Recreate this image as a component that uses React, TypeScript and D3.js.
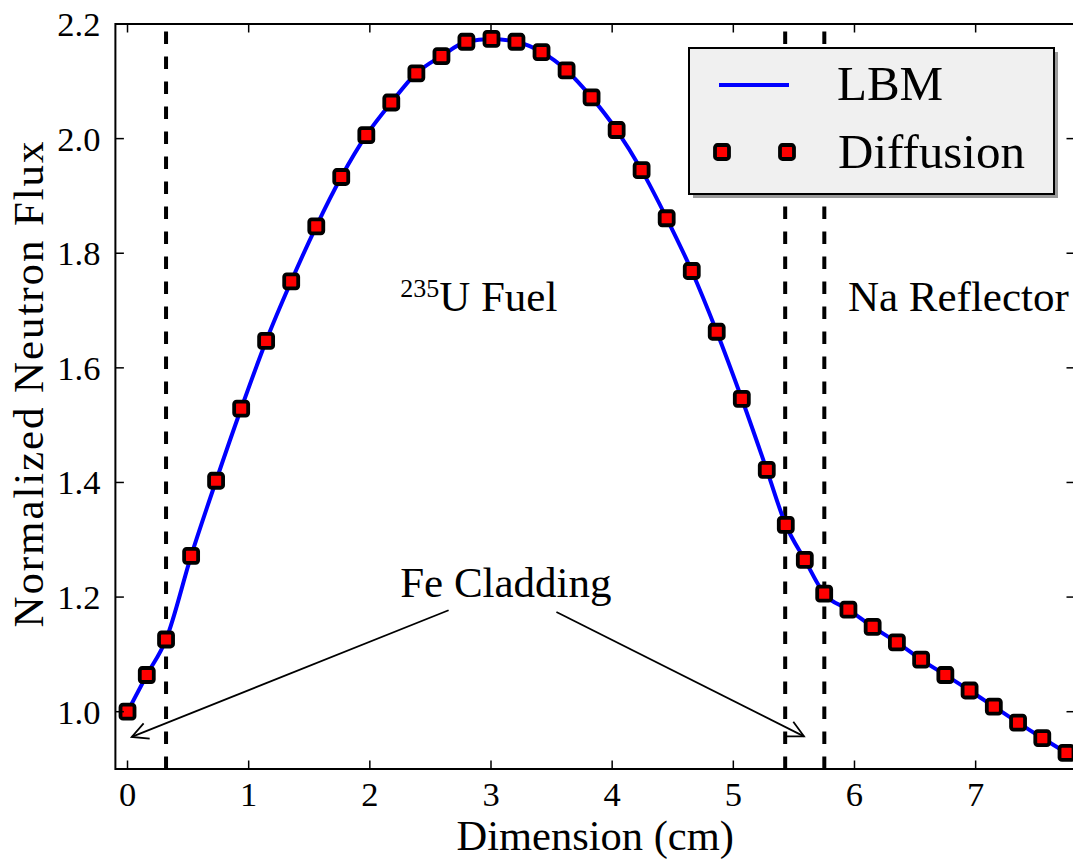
import React from 'react';
import * as d3 from 'd3';

// Dimension (cm) of the sampled points
const position = [
  0, 0.159, 0.318,
  0.525, 0.731, 0.938, 1.144, 1.351, 1.558, 1.764, 1.971, 2.177, 2.384, 2.591, 2.797,
  3.004, 3.210, 3.417, 3.624, 3.830, 4.037, 4.243, 4.450, 4.657, 4.863, 5.070, 5.276,
  5.433, 5.590, 5.750,
  5.95, 6.15, 6.35, 6.55, 6.75, 6.95, 7.15, 7.35, 7.55, 7.75,
];

// LBM solution (line)
const lbmFlux = [
  1.000, 1.064, 1.126,
  1.272, 1.403, 1.529, 1.647, 1.751, 1.847, 1.933, 2.006, 2.063, 2.114, 2.144, 2.169,
  2.174, 2.169, 2.151, 2.119, 2.072, 2.015, 1.945, 1.861, 1.769, 1.663, 1.546, 1.422,
  1.326, 1.265, 1.206,
  1.178, 1.148, 1.121, 1.091, 1.064, 1.037, 1.009, 0.981, 0.954, 0.928,
];

// Diffusion solution (markers)
const diffusionFlux = [
  1.000, 1.064, 1.126,
  1.272, 1.403, 1.529, 1.647, 1.751, 1.847, 1.933, 2.006, 2.063, 2.114, 2.144, 2.169,
  2.174, 2.169, 2.151, 2.119, 2.072, 2.015, 1.945, 1.861, 1.769, 1.663, 1.546, 1.422,
  1.326, 1.265, 1.206,
  1.178, 1.148, 1.121, 1.091, 1.064, 1.037, 1.009, 0.981, 0.954, 0.928,
];

const xTicks = [0, 1, 2, 3, 4, 5, 6, 7];
const yTicks = [1.0, 1.2, 1.4, 1.6, 1.8, 2.0, 2.2];
const interfaces = [0.318, 5.428, 5.751];

const xDomain = [-0.1, 7.82];
const yDomain = [0.9, 2.2];

const fuelLabel = { x: 2.25, y: 1.7 };
const reflectorLabel = { x: 5.946, y: 1.7 };
const claddingLabel = { x: 2.25, y: 1.2 };
const arrowTails = [[2.65, 1.177], [3.54, 1.174]];
const arrowTips = [[0.035, 0.956], [5.583, 0.957]];

const W = 1073;
const H = 861;
const left = 115.4;
const right = 1075;
const top = 24;
const bottom = 769;

const FONT = '"Liberation Serif", "Times New Roman", serif';

export default function App() {
  const x = d3.scaleLinear().domain(xDomain).range([left, right]);
  const y = d3.scaleLinear().domain(yDomain).range([bottom, top]);

  const pts = position.map((p, i) => [p, lbmFlux[i]] as [number, number]);
  const line = d3
    .line<[number, number]>()
    .x((d) => x(d[0]))
    .y((d) => y(d[1]))
    .curve(d3.curveMonotoneX);

  const tickLen = 8.5;
  const ms = 14;

  const marker = (cx: number, cy: number, key: any) => (
    <rect
      key={key}
      x={cx - ms / 2}
      y={cy - ms / 2}
      width={ms}
      height={ms}
      rx={2.5}
      fill="#ff0000"
      stroke="#000"
      strokeWidth={3.8}
      strokeLinejoin="round"
    />
  );

  const arrows = arrowTails.map((t, i) => {
    const x1 = x(t[0]);
    const y1 = y(t[1]);
    const x2 = x(arrowTips[i][0]);
    const y2 = y(arrowTips[i][1]);
    const ang = Math.atan2(y1 - y2, x1 - x2);
    const L = 18;
    const a = (27 * Math.PI) / 180;
    const h1 = [x2 + L * Math.cos(ang + a), y2 + L * Math.sin(ang + a)];
    const h2 = [x2 + L * Math.cos(ang - a), y2 + L * Math.sin(ang - a)];
    return (
      <g key={'arr' + i} stroke="#000" strokeWidth={1.8} fill="none">
        <line x1={x1} y1={y1} x2={x2} y2={y2} />
        <polyline points={`${h1[0]},${h1[1]} ${x2},${y2} ${h2[0]},${h2[1]}`} />
      </g>
    );
  });

  const legX = 689;
  const legY = 48;
  const legW = 365;
  const legH = 146;

  return (
    <svg
      width={W}
      height={H}
      style={{ position: 'absolute', left: 0, top: 0, background: '#fff' }}
      fontFamily={FONT}
    >
      <defs>
        <clipPath id="plotclip">
          <rect x={left} y={top} width={right - left} height={bottom - top} />
        </clipPath>
      </defs>
      <rect x={0} y={0} width={W} height={H} fill="#fff" />

      {/* interface dashed lines */}
      {interfaces.map((v, i) => (
        <line
          key={'if' + i}
          x1={x(v)}
          x2={x(v)}
          y1={bottom}
          y2={top}
          stroke="#000"
          strokeWidth={4}
          strokeDasharray="12.5,12.5"
        />
      ))}

      {/* LBM line */}
      <path d={line(pts) || ''} fill="none" stroke="#0000ff" strokeWidth={4} clipPath="url(#plotclip)" />

      {/* Diffusion markers */}
      {position.map((p, i) => marker(x(p), y(diffusionFlux[i]), 'm' + i))}

      {/* annotations */}
      <text x={x(fuelLabel.x)} y={y(fuelLabel.y)} fontSize={43} fill="#000">
        <tspan fontSize={26} dy={-14}>235</tspan>
        <tspan dy={14}>U Fuel</tspan>
      </text>
      <text x={x(reflectorLabel.x)} y={y(reflectorLabel.y)} fontSize={43} fill="#000">
        Na Reflector
      </text>
      <text x={x(claddingLabel.x)} y={y(claddingLabel.y)} fontSize={43} fill="#000">
        Fe Cladding
      </text>
      {arrows}

      {/* axes frame */}
      <rect x={left} y={top} width={right - left} height={bottom - top} fill="none" stroke="#000" strokeWidth={2} />

      {/* x ticks */}
      {xTicks.map((t) => (
        <g key={'xt' + t}>
          <line x1={x(t)} x2={x(t)} y1={bottom} y2={bottom - tickLen} stroke="#000" strokeWidth={1.5} />
          <line x1={x(t)} x2={x(t)} y1={top} y2={top + tickLen} stroke="#000" strokeWidth={1.5} />
          <text x={x(t)} y={bottom + 37} fontSize={34.5} textAnchor="middle" fill="#000">
            {t}
          </text>
        </g>
      ))}

      {/* y ticks */}
      {yTicks.map((t) => (
        <g key={'yt' + t}>
          <line x1={left} x2={left + tickLen} y1={y(t)} y2={y(t)} stroke="#000" strokeWidth={1.5} />
          <line x1={right} x2={right - tickLen} y1={y(t)} y2={y(t)} stroke="#000" strokeWidth={1.5} />
          <text x={left - 15} y={y(t)} fontSize={34.5} textAnchor="end" dominantBaseline="central" fill="#000">
            {d3.format('.1f')(t)}
          </text>
        </g>
      ))}

      {/* axis labels */}
      <text x={(left + right) / 2} y={850} fontSize={42.5} textAnchor="middle" fill="#000">
        Dimension (cm)
      </text>
      <text
        transform={`translate(43, ${(top + bottom) / 2 - 12}) rotate(-90)`}
        fontSize={43}
        textAnchor="middle"
        textLength={486}
        lengthAdjust="spacing"
        fill="#000"
      >
        Normalized Neutron Flux
      </text>

      {/* legend */}
      <rect x={legX + 4} y={legY + 4} width={legW} height={legH} fill="#9a9a9a" />
      <rect x={legX} y={legY} width={legW} height={legH} fill="#f0f0f0" stroke="#000" strokeWidth={2} />
      <line x1={719} x2={789} y1={85} y2={85} stroke="#0000ff" strokeWidth={4} />
      <text x={837} y={100} fontSize={49} fill="#000">LBM</text>
      {marker(722, 152, 'lm1')}
      {marker(787, 152, 'lm2')}
      <text x={838} y={168} fontSize={49} fill="#000">Diffusion</text>
    </svg>
  );
}
